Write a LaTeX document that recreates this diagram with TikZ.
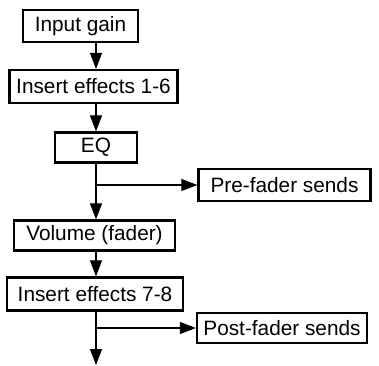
\documentclass[tikz,border=0pt]{standalone}
\usepackage{fontspec}
\setmainfont{Liberation Sans}
\usetikzlibrary{arrows.meta}

\begin{document}
\begin{tikzpicture}[x=0.75pt, y=-0.75pt,
    block/.style={draw, line width=1.7pt, inner sep=0pt, font=\fontsize{15.6}{18}\selectfont},
    flow/.style={line width=0.9pt, -{Triangle[length=12pt, width=9pt]}}]
                \useasboundingbox (0,0) rectangle (379,365);
                % Boxes
                \node[block, minimum width=115*0.75pt, minimum height=32*0.75pt] (in) at (80.5,26) {Input gain};
                \node[block, minimum width=168*0.75pt, minimum height=33*0.75pt] (ins1) at (93.5,86.5) {Insert effects 1-6};
                \node[block, minimum width=82*0.75pt, minimum height=30*0.75pt] (eq) at (96,147.5) {EQ};
                \node[block, minimum width=172*0.75pt, minimum height=32*0.75pt] (pre) at (284.5,185) {Pre-fader sends};
                \node[block, minimum width=161*0.75pt, minimum height=30*0.75pt] (vol) at (94.5,235.5) {Volume (fader)};
                \node[block, minimum width=176*0.75pt, minimum height=33*0.75pt] (ins2) at (95,294) {Insert effects 7-8};
                \node[block, minimum width=170*0.75pt, minimum height=30*0.75pt] (post) at (282,328) {Post-fader sends};

                % Branch points
                \coordinate (br1) at (eq |- pre);
                \coordinate (br2) at (eq |- post);
                \coordinate (out) at (96,365);

                % Arrows
                \draw[flow] (in.south -| eq) -- (ins1.north -| eq);
                \draw[flow] (ins1.south -| eq) -- (eq.north);
                \draw[flow] (eq.south) -- (vol.north -| eq);
                \draw[flow] (br1) -- (pre.west);
                \draw[flow] (vol.south -| eq) -- (ins2.north -| eq);
                \draw[flow] (ins2.south -| eq) -- (out);
                \draw[flow] (br2) -- (post.west);
\end{tikzpicture}
\end{document}
